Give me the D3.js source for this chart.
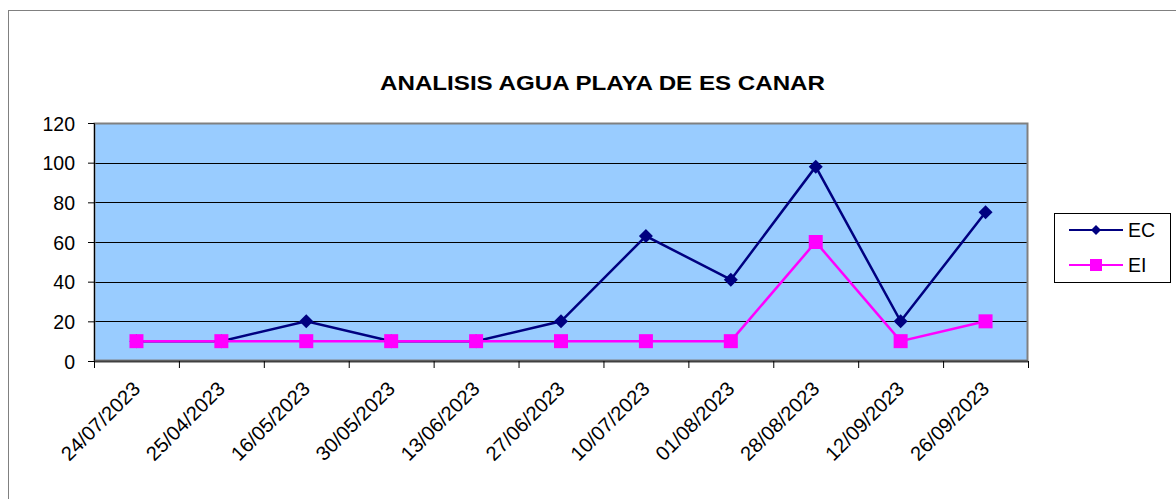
<!DOCTYPE html>
<html><head><meta charset="utf-8">
<script src="https://cdn.jsdelivr.net/npm/d3@7"></script>
<style>body{margin:0;background:#fff}svg{display:block}text{font-family:"Liberation Sans",Arial,sans-serif}</style>
</head><body><svg id="c" width="1176" height="499"></svg>
<script>
const categories=["24/07/2023","25/04/2023","16/05/2023","30/05/2023","13/06/2023","27/06/2023","10/07/2023","01/08/2023","28/08/2023","12/09/2023","26/09/2023"];
const ecValues=[10,10,20,10,10,20,63,41,98,20,75];
const eiValues=[10,10,10,10,10,10,10,10,60,10,20];
const yTicks=[0,20,40,60,80,100,120];
const title="ANALISIS AGUA PLAYA DE ES CANAR";

const svg=d3.select("#c");
svg.append("rect").attr("x",8.5).attr("y",10.5).attr("width",1200).attr("height",600).attr("fill","#fff").attr("stroke","#808080");
const L=94,R=1028,T=123,B=361;
const x=d3.scaleBand().domain(categories).range([L,R]);
const y=d3.scaleLinear().domain([0,120]).range([B,T]);
svg.append("rect").attr("x",L).attr("y",T).attr("width",R-L).attr("height",B-T).attr("fill","#99CCFF");
svg.append("g").selectAll("line").data(yTicks.filter(d=>d>0&&d<120)).join("line")
 .attr("x1",L).attr("x2",R).attr("y1",d=>Math.round(y(d))+0.5).attr("y2",d=>Math.round(y(d))+0.5).attr("stroke","#000").attr("stroke-width",1);
svg.append("rect").attr("x",L+0.5).attr("y",T+0.5).attr("width",R-L-1).attr("height",B-T-1).attr("fill","none").attr("stroke","#808080").attr("stroke-width",2);
// y axis
const ya=svg.append("g").attr("transform",`translate(${L},0)`).call(d3.axisLeft(y).tickValues(yTicks).tickSize(6).tickPadding(13));
ya.select(".domain").attr("stroke","#000");
ya.selectAll("text").attr("font-size",19.5).attr("fill","#000").attr("font-family","Liberation Sans, Arial").attr("dy","0.36em");
ya.selectAll(".tick line").attr("stroke","#000");
// x axis
const xa=svg.append("g").attr("transform",`translate(0,${B})`);
xa.append("path").attr("d",`M${L},0.5H${R}`).attr("stroke","#404040").attr("stroke-width",2);
const bounds=categories.map((c,i)=>x(c)).concat([R]);
xa.selectAll("line.b").data(bounds).join("line").attr("class","b").attr("x1",d=>d+0.5).attr("x2",d=>d+0.5).attr("y1",0).attr("y2",7).attr("stroke","#000");
svg.append("g").selectAll("text").data(categories).join("text")
 .attr("transform",d=>`translate(${x(d)+x.bandwidth()/2+5},${B+29}) rotate(-45)`)
 .attr("text-anchor","end").attr("font-size",20).attr("fill","#000")
 .attr("textLength",102).attr("lengthAdjust","spacingAndGlyphs").text(d=>d);
// lines
const cx=(d,i)=>x(categories[i])+x.bandwidth()/2;
const line=d3.line().x((d,i)=>cx(d,i)).y(d=>y(d));
svg.append("path").datum(ecValues).attr("d",line).attr("fill","none").attr("stroke","#000080").attr("stroke-width",2.5);
svg.append("path").datum(eiValues).attr("d",line).attr("fill","none").attr("stroke","#FF00FF").attr("stroke-width",2.5);
const diamond="M0,-7L7,0L0,7L-7,0Z";
svg.append("g").selectAll("path").data(ecValues).join("path").attr("d",diamond).attr("transform",(d,i)=>`translate(${cx(d,i)},${y(d)})`).attr("fill","#000080");
svg.append("g").selectAll("rect").data(eiValues).join("rect").attr("x",(d,i)=>cx(d,i)-7).attr("y",d=>y(d)-7).attr("width",14).attr("height",14).attr("fill","#FF00FF");
// title
svg.append("text").attr("x",602.5).attr("y",90).attr("text-anchor","middle").attr("font-size",21).attr("font-weight","bold")
 .attr("textLength",445).attr("lengthAdjust","spacingAndGlyphs").text(title);
// legend
const lg=svg.append("g");
lg.append("rect").attr("x",1054.5).attr("y",213.5).attr("width",116).attr("height",69).attr("fill","#fff").attr("stroke","#000");
const leg=[["EC","#000080","d"],["EI","#FF00FF","s"]];
leg.forEach((l,i)=>{
 const yy=230+i*35;
 lg.append("line").attr("x1",1069).attr("x2",1123).attr("y1",yy).attr("y2",yy).attr("stroke",l[1]).attr("stroke-width",2);
 if(l[2]==="d") lg.append("path").attr("d","M0,-5L5,0L0,5L-5,0Z").attr("transform",`translate(1096,${yy})`).attr("fill",l[1]);
 else lg.append("rect").attr("x",1090).attr("y",yy-6).attr("width",12).attr("height",12).attr("fill",l[1]);
 lg.append("text").attr("x",1128).attr("y",yy+7).attr("font-size",19.5).text(l[0]);
});
</script></body></html>
